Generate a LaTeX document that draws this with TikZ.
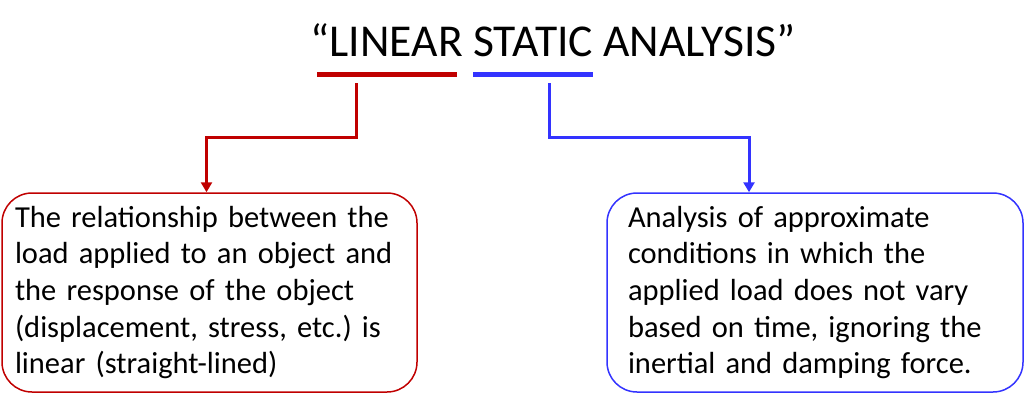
\documentclass[tikz,border=0pt]{standalone}
\usepackage{fontspec}
\setmainfont{Carlito}
\usetikzlibrary{arrows.meta}
\definecolor{darkred}{RGB}{192,0,0}
\definecolor{brightblue}{RGB}{51,51,255}
\tikzset{
  textbox/.style={draw, rounded corners=30pt, line width=1.5pt, minimum height=199pt,
    align=left, inner xsep=13pt, text width=389pt,
    font=\fontsize{30.5}{36.7}\selectfont\frenchspacing},
  bar/.style={line width=5pt},
  link/.style={line width=3pt, -{Triangle[length=10pt,width=11pt]}}
}
\begin{document}
\begin{tikzpicture}[x=1pt,y=-1pt]
  \useasboundingbox (0,0) rectangle (1024,405);
  \node (title) [anchor=base, font=\fontsize{45.6}{55}\selectfont] at (553,56) {“LINEAR STATIC ANALYSIS”};
  \node (left) [textbox, draw=darkred] at (209.5,292.5)
    {The relationship between the\\ load applied to an object and\\ the response of the object\\ (displacement, stress, etc.) is\\ linear (straight-lined)};
  \node (right) [textbox, draw=brightblue, inner xsep=21pt, text width=374pt] at (815,292.5)
    {Analysis of approximate\\ conditions in which the\\ applied load does not vary\\ based on time, ignoring the\\ inertial and damping force.};
  % underlines
  \coordinate (redbarl) at (317,74);
  \coordinate (redbarr) at (457,74);
  \coordinate (bluebarl) at (473,74);
  \coordinate (bluebarr) at (593,74);
  \draw[bar, darkred] (redbarl) -- (redbarr);
  \draw[bar, brightblue] (bluebarl) -- (bluebarr);
  % elbows down to the boxes
  \coordinate (redfoot) at (356,83);
  \coordinate (bluefoot) at (549,83);
  \draw[link, darkred] (redfoot) -- ++(0,54) -| ([xshift=-3pt]left.north);
  \draw[link, brightblue] (bluefoot) -- ++(0,54) -| ([xshift=-66pt]right.north);
\end{tikzpicture}
\end{document}
